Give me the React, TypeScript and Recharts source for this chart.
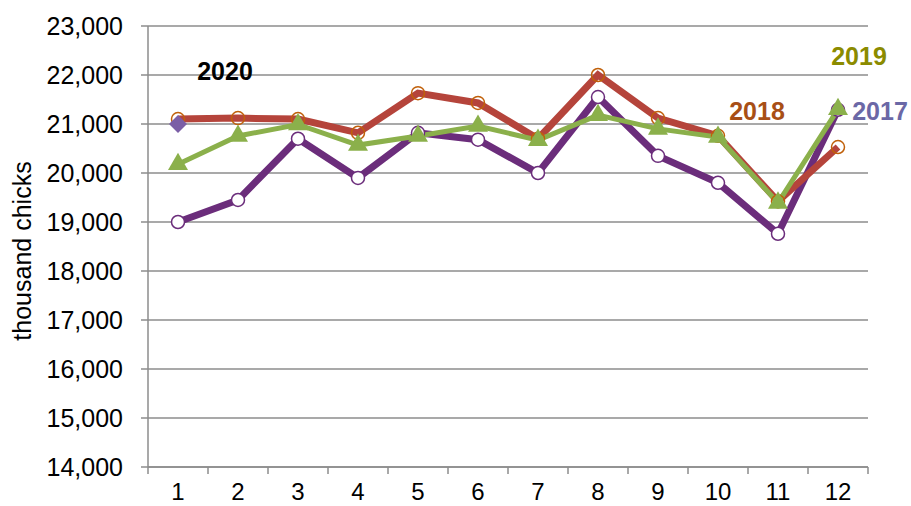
import { LineChart, Line, XAxis, YAxis, CartesianGrid } from "recharts";

const months = [1, 2, 3, 4, 5, 6, 7, 8, 9, 10, 11, 12];
const chicks2017 = [19000, 19450, 20700, 19900, 20820, 20680, 20000, 21550, 20350, 19800, 18760, 21290];
const chicks2018 = [21100, 21120, 21100, 20820, 21630, 21430, 20700, 22000, 21120, 20760, 19420, 20530];
const chicks2019 = [20180, 20755, 20990, 20570, 20755, 20960, 20670, 21180, 20900, 20735, 19390, 21300];
const chicks2020 = [21000];
const yTicks = [14000, 15000, 16000, 17000, 18000, 19000, 20000, 21000, 22000, 23000];

const data = months.map((m, i) => ({
  month: m,
  y2017: chicks2017[i],
  y2018: chicks2018[i],
  y2019: chicks2019[i],
  y2020: chicks2020[i] ?? null,
}));

const FONT = '"Liberation Sans", Arial, sans-serif';
const AXIS = "#8c8c8c";
const HALF_BAND = 30; // half of one month slot, plot is 720px wide

const MonthTick = (props: any) => {
  const { x, y, payload } = props;
  const last = payload.value === months[months.length - 1];
  return (
    <g>
      <line x1={x - HALF_BAND} y1={y} x2={x - HALF_BAND} y2={y + 7} stroke={AXIS} strokeWidth={1.5} />
      {last && <line x1={x + HALF_BAND} y1={y} x2={x + HALF_BAND} y2={y + 7} stroke={AXIS} strokeWidth={1.5} />}
      <text x={x} y={y + 33} textAnchor="middle" fontSize={24} fontFamily={FONT} fill="#000">
        {payload.value}
      </text>
    </g>
  );
};

const openCircle = (stroke: string, fill: string) => (p: any) => {
  if (p.cx == null || p.cy == null || p.value == null) return <g key={p.index} />;
  return <circle key={p.index} cx={p.cx} cy={p.cy} r={6.5} stroke={stroke} strokeWidth={1.5} fill={fill} />;
};

const triangle = (p: any) => {
  if (p.cx == null || p.cy == null) return <g key={p.index} />;
  const s = 20;
  const h = s * 0.866;
  const pts = `${p.cx},${p.cy - (h * 2) / 3} ${p.cx - s / 2},${p.cy + h / 3} ${p.cx + s / 2},${p.cy + h / 3}`;
  return <polygon key={p.index} points={pts} fill="#8bb04b" />;
};

const diamond = (p: any) => {
  if (p.cx == null || p.cy == null || p.value == null) return <g key={p.index} />;
  const r = 9;
  const pts = `${p.cx},${p.cy - r} ${p.cx + r},${p.cy} ${p.cx},${p.cy + r} ${p.cx - r},${p.cy}`;
  return <polygon key={p.index} points={pts} fill="#7b5ea6" />;
};

export default function App() {
  return (
    <div style={{ position: "fixed", left: 0, top: 0, width: 911, height: 506, background: "#fff" }}>
      <LineChart
        width={911}
        height={506}
        data={data}
        margin={{ top: 26, right: 43, left: 0, bottom: 0 }}
      >
        <CartesianGrid vertical={false} stroke={AXIS} strokeWidth={1.5} />
        <XAxis
          type="number"
          dataKey="month"
          domain={[0.5, 12.5]}
          ticks={months}
          interval={0}
          height={39}
          tickLine={false}
          tickSize={0}
          tickMargin={0}
          axisLine={{ stroke: AXIS, strokeWidth: 1.5 }}
          tick={<MonthTick />}
        />
        <YAxis
          width={148}
          domain={[14000, 23000]}
          ticks={yTicks}
          interval={0}
          tickSize={7}
          tickMargin={18}
          axisLine={{ stroke: AXIS, strokeWidth: 1.5 }}
          tickLine={{ stroke: AXIS, strokeWidth: 1.5 }}
          tick={{ fontSize: 25, fill: "#000", fontFamily: FONT }}
          tickFormatter={(v: number) => v.toLocaleString("en-US")}
          label={{
            content: () => (
              <text
                x={22}
                y={251}
                transform="rotate(-90 22 251)"
                textAnchor="middle"
                dominantBaseline="central"
                fontSize={25}
                fontFamily={FONT}
                fill="#000"
              >
                thousand chicks
              </text>
            ),
          }}
        />
        <Line
          dataKey="y2017"
          stroke="#6b2d7b"
          strokeWidth={7}
          dot={openCircle("#6b2d7b", "#fff")}
          activeDot={false}
          isAnimationActive={false}
        />
        <Line
          dataKey="y2018"
          stroke="#b5443b"
          strokeWidth={7}
          dot={openCircle("#c0600a", "none")}
          activeDot={false}
          isAnimationActive={false}
        />
        <Line
          dataKey="y2019"
          stroke="#8bb04b"
          strokeWidth={5}
          dot={triangle}
          activeDot={false}
          isAnimationActive={false}
        />
        <Line
          dataKey="y2020"
          stroke="none"
          dot={diamond}
          activeDot={false}
          isAnimationActive={false}
        />
      </LineChart>
      <svg
        width={911}
        height={506}
        style={{ position: "absolute", left: 0, top: 0, pointerEvents: "none" }}
        fontFamily={FONT}
        fontWeight="bold"
        fontSize={25}
        textAnchor="middle"
      >
        <text x={225} y={80} fill="#000">2020</text>
        <text x={859} y={65} fill="#8b8b00">2019</text>
        <text x={757} y={120} fill="#a84f16">2018</text>
        <text x={880} y={120} fill="#6b68a6">2017</text>
      </svg>
    </div>
  );
}
